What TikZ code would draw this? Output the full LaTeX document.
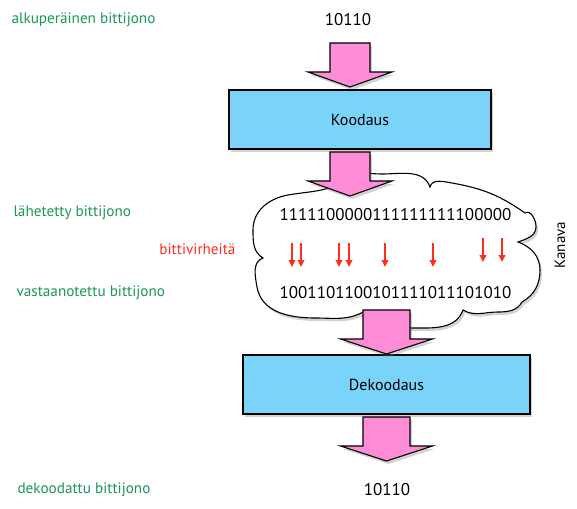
\documentclass[tikz,border=0pt]{standalone}
\usepackage{fontspec}
\setmainfont{PT Sans}
\usetikzlibrary{shadows,calc,arrows.meta}

\definecolor{labelgreen}{RGB}{25,150,90}
\definecolor{errred}{RGB}{255,45,30}
\definecolor{boxblue}{RGB}{122,212,250}
\definecolor{arrowpink}{RGB}{255,140,215}

% fat arrow pointing down: shaft half width, head half width, start, tip
\newcommand{\fatarrow}[4]{%
  \draw[fatarrow] let \p1=(#3), \p2=(#4) in
    (\x1-#1pt,\y1) -- (\x1+#1pt,\y1) -- (\x1+#1pt,\y2+15pt) -- (\x1+#2pt,\y2+15pt)
    -- (\x2,\y2) -- (\x1-#2pt,\y2+15pt) -- (\x1-#1pt,\y2+15pt) -- cycle;
}

\begin{document}
\begin{tikzpicture}[x=1pt,y=-1pt,
  boxshadow/.style={drop shadow={shadow xshift=2pt,shadow yshift=-3pt,opacity=.35}},
  block/.style={draw, line width=1.1pt, fill=boxblue, boxshadow, minimum height=59pt,
    font=\fontsize{16}{19}\selectfont},
  fatarrow/.style={draw, line width=1.1pt, fill=arrowpink, boxshadow},
  stagelabel/.style={anchor=west, text=labelgreen, font=\fontsize{15.2}{18}\selectfont},
  bits/.style={font=\fontsize{17}{20}\selectfont},
  biterror/.style={errred, line width=1.7pt, -{Triangle[length=7pt,width=6.5pt]}}]
\useasboundingbox (0,0) rectangle (577,508);

% labels on the left
\node[stagelabel] (origlabel) at (8,20) {alkuperäinen bittijono};
\node[stagelabel] (sentlabel) at (10,213) {lähetetty bittijono};
\node[stagelabel, anchor=east, text=errred] (errlabel) at (239,249) {bittivirheitä};
\node[stagelabel] (recvlabel) at (13,293) {vastaanotettu bittijono};
\node[stagelabel] (decodedlabel) at (14,490) {dekoodattu bittijono};

% bit strings
\node[bits] (origbits) at (348,20) {10110};
\node[block, minimum width=262pt] (coder) at (360,119.5) {Koodaus};

% channel
\draw[fill=white, line width=1.1pt, boxshadow] (263,258)
  to[out=150,in=-90] (253,230)
  to[out=90,in=190] (288,195)
  to[out=10,in=200] (335,186)
  to[out=80,in=180] (382,174)
  to[out=0,in=110] (430,187)
  to[out=75,in=170] (452,183)
  to[out=-10,in=145] (525,213)
  to[out=30,in=90] (536,227)
  to[out=-90,in=20] (518,242)
  to[out=-20,in=90] (540,270)
  to[out=-90,in=30] (522,302)
  to[out=-120,in=0] (498,312)
  to[out=180,in=-30] (463,310)
  to[out=-110,in=0] (412,328)
  to[out=180,in=-20] (365,311)
  to[out=-150,in=0] (315,318)
  to[out=180,in=-80] (257,287)
  to[out=100,in=-160] (263,258) -- cycle;
\node[bits] (sentbits) at (395.5,215) {1111100000111111111100000};
\node[bits] (recvbits) at (395.5,293) {1001101100101111011101010};
\node[rotate=90, font=\fontsize{15}{18}\selectfont] (channel) at (560,245) {Kanava};
\foreach \x/\y in {292/243, 301/243, 339/243, 349/243, 385/243, 433/243, 483/238, 502/238} {%
  % one flipped bit
  \draw[biterror] (\x,\y) -- (\x,\y+24);
}

\node[block, minimum width=287pt] (decoder) at (386.5,384.5) {Dekoodaus};
\node[bits] (decodedbits) at (387,490) {10110};

% arrows between the stages
\coordinate (in1) at (350,43);
\coordinate (out1) at (350,87);
\coordinate (in2) at (350,152);
\coordinate (out2) at (350,196);
\coordinate (in3) at (386.5,310);
\coordinate (out3) at (386.5,354);
\coordinate (in4) at (386.5,417);
\coordinate (out4) at (386.5,461);
\fatarrow{20}{42}{in1}{out1}
\fatarrow{20}{42}{in2}{out2}
\fatarrow{23.5}{46}{in3}{out3}
\fatarrow{23.5}{46}{in4}{out4}
\end{tikzpicture}
\end{document}
